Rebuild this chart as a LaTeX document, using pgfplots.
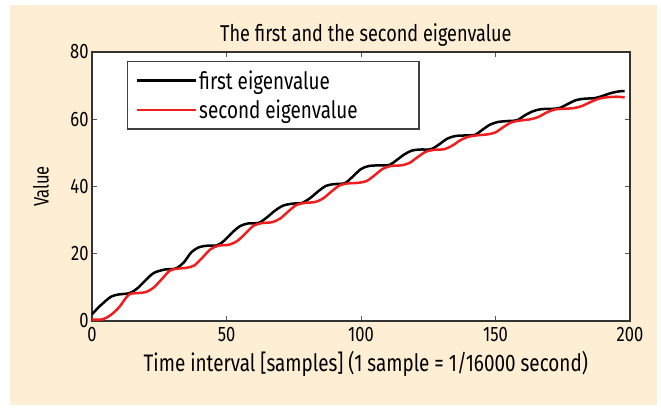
\documentclass[border=0pt]{standalone}
\usepackage{fontspec}
\setmainfont[FakeStretch=0.79]{Fira Sans}
\usepackage{pgfplots}
\pgfplotsset{compat=1.18}
\definecolor{bg}{RGB}{254,238,212}
\definecolor{myred}{RGB}{240,30,30}
\begin{document}
\begin{tikzpicture}[x=1bp,y=1bp]
\fill[white] (-92,-88) rectangle (569,321);
\fill[bg] (-82,-84) rectangle (565,316);
\begin{axis}[
  at={(0,0)}, anchor=south west,
  width=538bp, height=269bp, scale only axis,
  xmin=0, xmax=200, ymin=0, ymax=80,
  xtick={0,50,100,150,200}, ytick={0,20,40,60,80},
  tick align=inside, major tick length=5bp,
  tick style={black!65, line width=1bp},
  axis line style={black!80, line width=1.8bp},
  axis background/.style={fill=white},
  tick label style={font=\fontsize{21}{25}\selectfont, black},
  xticklabel style={yshift=-3bp},
  /pgf/number format/assume math mode=true,
  title={The first and the second eigenvalue},
  title style={font=\fontsize{23}{27}\selectfont, at={(axis description cs:0.509,1.04)}, anchor=center},
  xlabel={Time interval [samples] (1 sample = 1/16000 second)},
  xlabel style={font=\fontsize{24}{28}\selectfont, at={(axis description cs:0.509,-0.16)}, anchor=center},
  ylabel={Value},
  ylabel style={font=\fontsize{21}{25}\selectfont, at={(axis description cs:-0.095,0.5)}, anchor=center},
  legend style={at={(axis description cs:0.065,0.967)}, anchor=north west,
    draw=black!75, line width=1.5bp, fill=white,
    font=\fontsize{24}{28}\selectfont,
    inner xsep=8bp, inner ysep=7bp, row sep=5bp,
    nodes={inner sep=2bp}},
  legend cell align=left,
  legend image code/.code={\draw[#1, line width=2.5bp] (0bp,0bp) -- (59bp,0bp);},
]
\addplot[black, line width=2.5bp, smooth, tension=0.5] coordinates {
(0,2) (3,4.5) (7,7.2) (10,7.9) (14,8.3) (17,9.8) (20,12.2) (23,14.3) (27,15.3) (31,15.6)
(34,17.3) (37,20.5) (40,22) (43,22.4) (46.5,22.5) (49,23.8) (52,26.2) (55,28.2) (58,29)
(62,29.2) (65,30.8) (68,32.8) (71,34.3) (74.5,34.9) (78,35.1) (81,36.5) (84,38.5) (87,40.2)
(90,40.7) (94,41) (97,43) (100,45.2) (103,46.1) (107,46.3) (110.5,46.4) (113,47.7) (116,49.5)
(119,50.7) (122,51) (126,51.1) (129,52.5) (132,54.2) (135,55) (139,55.2) (142.5,55.4)
(145,56.8) (148,58.4) (151,59.2) (155,59.5) (158,59.7) (161,61.2) (164,62.4) (167,63)
(171,63.1) (174,63.4) (177,64.6) (180,65.7) (183,66.1) (187,66.3) (190,67) (193,67.8)
(196,68.3) (198,68.4)
};
\addlegendentry{\makebox[210bp][l]{first eigenvalue}}
\addplot[myred, line width=2.5bp, smooth, tension=0.5] coordinates {
(0,0.4) (4,0.5) (7,1.8) (10,4) (12,6.2) (14,8) (17,8.3) (20,8.6) (23,10) (26,12.5) (29,15)
(32,15.6) (35,15.8) (38,16.5) (41,18.8) (44,21.3) (47,22.4) (51,22.7) (54,23.8) (57,26)
(60,28.3) (63,29.1) (67,29.4) (70,30.5) (73,32.6) (76,34.5) (79,35.1) (83,35.4) (86,36.5)
(89,38.5) (92,40.3) (95,40.9) (99,41.1) (102,41.6) (105,43.3) (108,45.2) (111,46.1)
(115,46.3) (118,47) (121,48.7) (124,50.3) (127,50.9) (131,51.1) (134,52.2) (137,53.8)
(140,54.8) (143,55.2) (147,55.5) (150,56.1) (153,57.7) (156,59.1) (159,59.6) (163,60)
(166,60.7) (169,62) (172,62.9) (175,63.1) (179,63.3) (182,63.9) (185,65) (188,66) (191,66.5)
(195,66.7) (198,66.5)
};
\addlegendentry{\makebox[210bp][l]{second eigenvalue}}
\end{axis}
\end{tikzpicture}
\end{document}
